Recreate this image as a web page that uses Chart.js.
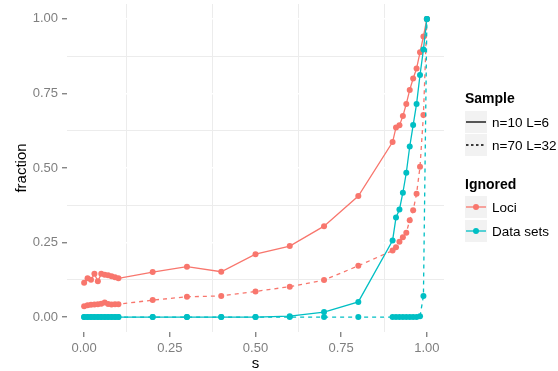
<!DOCTYPE html>
<html>
<head>
<meta charset="utf-8">
<script src="https://cdn.jsdelivr.net/npm/chart.js@4.4.0/dist/chart.umd.min.js"></script>
<style>
  html, body { margin: 0; padding: 0; background: #fff; }
  #wrap { position: relative; width: 558px; height: 371px; font-family: "Liberation Sans", Arial, sans-serif; }
  #chart { position: absolute; left: 0; top: 0; }
  .lg-title { position: absolute; left: 465px; font-weight: bold; font-size: 14px; line-height: 16px; color: #000; white-space: nowrap; }
  .lg-row { position: absolute; left: 465px; height: 22px; display: flex; align-items: center; font-size: 13.5px; color: #000; white-space: nowrap; }
  .lg-key { width: 22px; height: 22px; background: #f2f2f2; margin-right: 5px; display: block; }
</style>
</head>
<body>
<div id="wrap">
  <canvas id="chart" width="558" height="371"></canvas>
  <div class="lg-title" style="top:90px">Sample</div>
  <div class="lg-row" style="top:111px">
    <svg class="lg-key" width="22" height="22"><rect width="22" height="22" fill="#f2f2f2"/><line x1="1" y1="11" x2="21" y2="11" stroke="#000" stroke-width="1.3"/></svg>
    <span>n=10 L=6</span>
  </div>
  <div class="lg-row" style="top:134px">
    <svg class="lg-key" width="22" height="22"><rect width="22" height="22" fill="#f2f2f2"/><line x1="1" y1="11" x2="21" y2="11" stroke="#000" stroke-width="1.3" stroke-dasharray="2.5,2.5"/></svg>
    <span>n=70 L=32</span>
  </div>
  <div class="lg-title" style="top:176px">Ignored</div>
  <div class="lg-row" style="top:196px">
    <svg class="lg-key" width="22" height="22"><rect width="22" height="22" fill="#f2f2f2"/><line x1="1" y1="11" x2="21" y2="11" stroke="#F8766D" stroke-width="1.3"/><circle cx="11" cy="11" r="3" fill="#F8766D"/></svg>
    <span>Loci</span>
  </div>
  <div class="lg-row" style="top:220px">
    <svg class="lg-key" width="22" height="22"><rect width="22" height="22" fill="#f2f2f2"/><line x1="1" y1="11" x2="21" y2="11" stroke="#00BFC4" stroke-width="1.3"/><circle cx="11" cy="11" r="3" fill="#00BFC4"/></svg>
    <span>Data sets</span>
  </div>
</div>
<script>
// selection coefficient values at which the fractions were evaluated
const sValues = [0, 0.01, 0.02, 0.03, 0.04, 0.05, 0.06, 0.07, 0.08, 0.09, 0.1,
  0.2, 0.3, 0.4, 0.5, 0.6, 0.7, 0.8,
  0.9, 0.91, 0.92, 0.93, 0.94, 0.95, 0.96, 0.97, 0.98, 0.99, 1.0];

// fraction of loci ignored
const lociN10 = [0.115, 0.13, 0.125, 0.145, 0.12, 0.145, 0.142, 0.14, 0.137, 0.134, 0.13,
  0.151, 0.169, 0.152, 0.211, 0.238, 0.305, 0.406,
  0.587, 0.636, 0.643, 0.674, 0.715, 0.762, 0.8, 0.834, 0.888, 0.941, 1.0];
const lociN70 = [0.036, 0.040, 0.041, 0.042, 0.043, 0.045, 0.049, 0.044, 0.042, 0.043, 0.043,
  0.057, 0.068, 0.071, 0.086, 0.102, 0.124, 0.172,
  0.223, 0.234, 0.253, 0.268, 0.283, 0.325, 0.358, 0.414, 0.504, 0.678, 1.0];

// fraction of data sets ignored
const dataN10 = [0, 0, 0, 0, 0, 0, 0, 0, 0, 0, 0,
  0, 0, 0, 0, 0.003, 0.017, 0.051,
  0.257, 0.334, 0.361, 0.417, 0.484, 0.572, 0.644, 0.715, 0.812, 0.897, 1.0];
const dataN70 = [0, 0, 0, 0, 0, 0, 0, 0, 0, 0, 0,
  0, 0, 0, 0, 0, 0, 0,
  0, 0, 0, 0, 0, 0, 0, 0, 0.003, 0.071, 1.0];

// axis breaks and labels
const majorBreaks = [0, 0.25, 0.5, 0.75, 1.0];
const minorBreaks = [0.125, 0.375, 0.625, 0.875];
const tickLabels = ['0.00', '0.25', '0.50', '0.75', '1.00'];

const RED = '#F8766D';
const CYAN = '#00BFC4';

const toPoints = ys => sValues.map((s, i) => ({ x: s, y: ys[i] }));
const isMajor = v => majorBreaks.some(b => Math.abs(b - v) < 1e-9);

function series(label, ys, color, dashed) {
  return {
    label,
    data: toPoints(ys),
    borderColor: color,
    backgroundColor: color,
    borderWidth: 1.3,
    borderDash: dashed ? [4, 4] : [],
    pointRadius: 3,
    pointBorderWidth: 0,
    pointBackgroundColor: color,
    pointHoverRadius: 3,
    tension: 0,
    fill: false
  };
}

function axis(title, isY) {
  const allBreaks = majorBreaks.concat(minorBreaks).sort((a, b) => a - b);
  return {
    type: 'linear',
    min: -0.05,
    max: 1.05,
    afterBuildTicks: scale => { scale.ticks = allBreaks.map(v => ({ value: v })); },
    afterFit: scale => {
      // the panel is expanded beyond the outer breaks, so no label overhang is needed
      if (isY) { scale.width = 67; scale.paddingTop = 0; scale.paddingBottom = 0; }
      else { scale.height = 39; scale.paddingLeft = 0; scale.paddingRight = 0; }
    },
    border: { display: false },
    grid: {
      color: ctx => isMajor(ctx.tick.value) ? '#ffffff' : '#ececec',
      lineWidth: ctx => isMajor(ctx.tick.value) ? 1.6 : 1,
      tickColor: ctx => isMajor(ctx.tick.value) ? '#555555' : 'rgba(0,0,0,0)',
      tickWidth: 1,
      tickLength: 5,
      drawTicks: true
    },
    ticks: {
      autoSkip: false,
      maxRotation: 0,
      padding: 4,
      color: '#7f7f7f',
      font: { family: '"Liberation Sans", Arial, sans-serif', size: 13 },
      callback: value => {
        const i = majorBreaks.findIndex(b => Math.abs(b - value) < 1e-9);
        return i >= 0 ? tickLabels[i] : '';
      }
    },
    title: {
      display: true,
      text: title,
      color: '#000',
      font: { family: '"Liberation Sans", Arial, sans-serif', size: 15 },
      padding: isY ? { top: 13, bottom: 0 } : { top: 0, bottom: -2 }
    }
  };
}

new Chart(document.getElementById('chart'), {
  type: 'line',
  data: {
    datasets: [
      series('Data sets n=10 L=6', dataN10, CYAN, false),
      series('Data sets n=70 L=32', dataN70, CYAN, true),
      series('Loci n=10 L=6', lociN10, RED, false),
      series('Loci n=70 L=32', lociN70, RED, true)
    ]
  },
  options: {
    responsive: false,
    animation: false,
    layout: { padding: { top: 4, right: 114, bottom: 0, left: 0 } },
    plugins: { legend: { display: false }, tooltip: { enabled: false } },
    scales: {
      x: axis('s', false),
      y: axis('fraction', true)
    }
  }
});
</script>
</body>
</html>
